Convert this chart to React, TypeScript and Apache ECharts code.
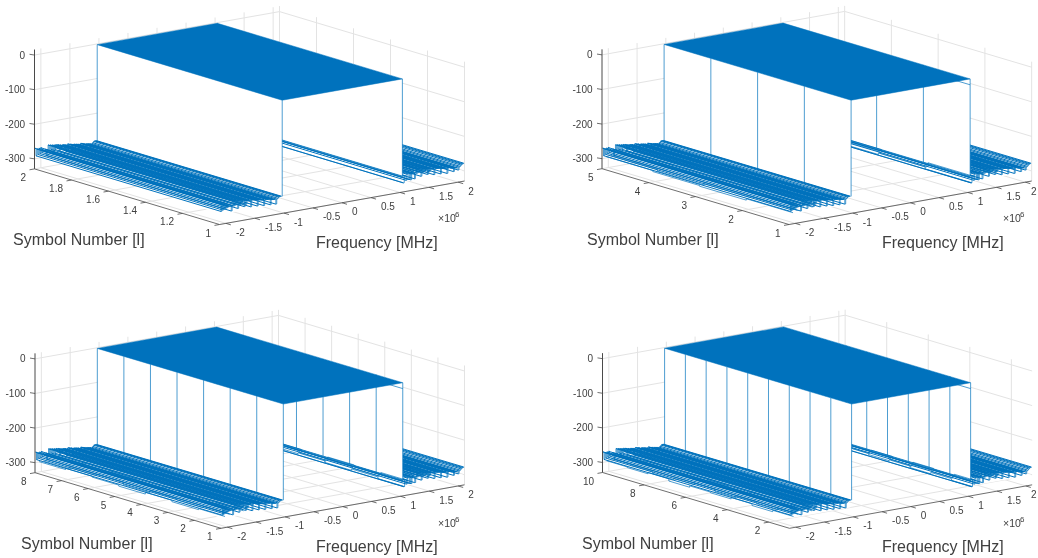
import React, { useEffect, useRef } from "react";
import * as echarts from "echarts";

// Frequency samples [in the plot's 10^6 unit] and noise-floor levels [dB]
const freqLow = [
  -2.1, -2.084, -2.068, -2.052, -2.036, -2.02, -2.004, -1.988, -1.972, -1.956,
  -1.94, -1.924, -1.908, -1.892, -1.876, -1.86, -1.844, -1.828, -1.812, -1.796,
  -1.78, -1.764, -1.748, -1.732, -1.716, -1.7, -1.684, -1.668, -1.652, -1.636,
  -1.62, -1.604, -1.588, -1.572, -1.556, -1.54, -1.524, -1.508, -1.492, -1.476,
  -1.46, -1.444, -1.428, -1.412, -1.396, -1.38, -1.364, -1.348, -1.332, -1.316,
  -1.3, -1.284, -1.268, -1.252, -1.236, -1.22, -1.204, -1.188, -1.172, -1.156,
  -1.14, -1.124, -1.108, -1.092, -1.076, -1.06, -1.044,
];
const levelLow = [
  -270, -292, -273, -289, -272, -287, -271, -285, -279, -283,
  -282, -278, -296, -281, -267, -283, -268, -281, -269, -292,
  -270, -283, -270, -280, -271, -272, -290, -273, -284, -274,
  -274, -275, -275, -294, -276, -274, -275, -276, -276, -277,
  -295, -278, -278, -279, -279, -280, -280, -297, -281, -279,
  -280, -281, -282, -282, -298, -283, -284, -284, -285, -285,
  -299, -285, -283, -280, -279, -279, -279,
];
const freqHigh = [
  1.056, 1.072, 1.088, 1.104, 1.12, 1.136, 1.152, 1.168, 1.184, 1.2,
  1.216, 1.232, 1.248, 1.264, 1.28, 1.296, 1.312, 1.328, 1.344, 1.36,
  1.376, 1.392, 1.408, 1.424, 1.44, 1.456, 1.472, 1.488, 1.504, 1.52,
  1.536, 1.552, 1.568, 1.584, 1.6, 1.616, 1.632, 1.648, 1.664, 1.68,
  1.696, 1.712, 1.728, 1.744, 1.76, 1.776, 1.792, 1.808, 1.824, 1.84,
  1.856, 1.872, 1.888, 1.904, 1.92, 1.936, 1.952, 1.968, 1.984, 2.0,
  2.016, 2.032, 2.048, 2.064, 2.08, 2.096,
];
const levelHigh = [
  -303, -284, -283, -297, -280, -279, -296, -277, -298, -282,
  -274, -280, -297, -283, -270, -282, -271, -280, -272, -293,
  -273, -283, -273, -281, -274, -275, -291, -276, -284, -277,
  -277, -278, -278, -295, -279, -277, -278, -279, -279, -280,
  -296, -281, -281, -282, -282, -283, -283, -298, -284, -282,
  -283, -284, -285, -285, -296, -286, -286, -287, -287, -294,
  -286, -284, -281, -279, -278, -277,
];
const bandEdges = [-1.03, 1.04];
const plateauLevel = -2;
const wallFloorLevels = [-280, -283];

const freqRange = [-2.11, 2.11];
const levelRange = [-329, 16];
const freqTicks = [-2, -1.5, -1, -0.5, 0, 0.5, 1, 1.5, 2];
const levelTicks = [0, -100, -200, -300];

const symbolTicks1 = [1, 1.2, 1.4, 1.6, 1.8, 2];
const symbolTicks2 = [1, 2, 3, 4, 5];
const symbolTicks3 = [1, 2, 3, 4, 5, 6, 7, 8];
const symbolTicks4 = [2, 4, 6, 8, 10];

// Samples whose level changes from symbol to symbol: [frequency, level per symbol...]
const steppedTraces2 = [
  [-2.04, -297, -301, -299, -296],
  [-1.96, -293, -296, -300, -295],
  [-1.7, -291, -288, -295, -290],
  [1.07, -303, -297, -302, -295],
  [1.09, -291, -299, -294, -300],
  [1.12, -287, -292, -289, -294],
];
const steppedTraces3 = [
  [-2.04, -297, -300, -296, -301, -298, -295, -299],
  [-1.96, -293, -297, -294, -299, -292, -296, -300],
  [-1.72, -290, -294, -288, -296, -291, -287, -293],
  [1.07, -303, -298, -302, -296, -300, -297, -301],
  [1.09, -290, -297, -293, -299, -292, -298, -295],
  [1.12, -287, -291, -288, -293, -289, -292, -290],
];
const steppedTraces4 = [
  [-2.04, -297, -301, -296, -300, -298, -302, -295, -299, -297],
  [-1.96, -293, -298, -294, -299, -292, -297, -300, -295, -293],
  [-1.72, -290, -295, -288, -296, -291, -287, -294, -289, -293],
  [1.07, -303, -298, -302, -296, -300, -297, -301, -299, -303],
  [1.09, -290, -297, -293, -299, -292, -298, -295, -300, -294],
  [1.12, -287, -291, -288, -293, -289, -292, -290, -294, -288],
];
const edgeNotchLevel = -19;

const symbolTitle = "Symbol Number [l]";
const freqTitle = "Frequency [MHz]";

const panelLayouts = [
  { ox: 219.5, oy: 224.5, fpx: 58.06, fpy: 10.3, sx: 185, sy: 55.6, ticks: symbolTicks1, traces: [], notch: false, symX: 13, symY: 239, frX: 316, frY: 242, expX: 438, expY: 218 },
  { ox: 789, oy: 224.5, fpx: 57.5, fpy: 10.3, sx: 187, sy: 55.8, ticks: symbolTicks2, traces: steppedTraces2, notch: true, symX: 587, symY: 239, frX: 882, frY: 242, expX: 1003, expY: 218 },
  { ox: 221, oy: 528.3, fpx: 57.7, fpy: 10.3, sx: 186, sy: 55.6, ticks: symbolTicks3, traces: steppedTraces3, notch: true, symX: 21, symY: 543, frX: 316, frY: 546, expX: 438, expY: 523 },
  { ox: 789.5, oy: 528.3, fpx: 57.5, fpy: 10.3, sx: 187, sy: 55.8, ticks: symbolTicks4, traces: steppedTraces4, notch: true, symX: 582, symY: 543, frX: 882, frY: 546, expX: 1003, expY: 523 },
];

const BLUE = "#0072BD";
const GRID = "#e3e3e3";
const AXIS = "#4a4a4a";
const TEXT = "#404040";
const FONT = '"Liberation Sans", Arial, sans-serif';

type P3 = [number, number, number];

function buildItems(p: any) {
  const sMin = 1;
  const sMax = p.ticks[p.ticks.length - 1];
  const [fMin, fMax] = freqRange;
  const [zMin, zMax] = levelRange;
  const proj = (f: number, s: number, z: number): [number, number] => {
    const t = (s - sMin) / (sMax - sMin);
    return [p.ox + (f - fMin) * p.fpx - t * p.sx, p.oy - (f - fMin) * p.fpy - t * p.sy - (z - zMin) * 0.346];
  };
  const items: any[] = [];
  const line = (pts: P3[], stroke: string, w: number) =>
    items.push({ kind: "line", pts: pts.map((q) => proj(q[0], q[1], q[2])), stroke, w });
  const poly = (pts: P3[], fill: string) =>
    items.push({ kind: "poly", pts: pts.map((q) => proj(q[0], q[1], q[2])), fill });
  const text = (pt: [number, number], t: string, size: number, align: string, dx = 0, dy = 0) =>
    items.push({ kind: "text", pt, t, size, align, dx, dy });

  // Back planes: grid
  freqTicks.forEach((f) => {
    line([[f, sMax, zMin], [f, sMax, zMax]], GRID, 1);
    line([[f, sMin, zMin], [f, sMax, zMin]], GRID, 1);
  });
  p.ticks.forEach((s: number) => {
    line([[fMax, s, zMin], [fMax, s, zMax]], GRID, 1);
    line([[fMin, s, zMin], [fMax, s, zMin]], GRID, 1);
  });
  levelTicks.forEach((z) => {
    line([[fMin, sMax, z], [fMax, sMax, z]], GRID, 1);
    line([[fMax, sMin, z], [fMax, sMax, z]], GRID, 1);
  });

  const [f1, f2] = bandEdges;
  const [zw1, zw2] = wallFloorLevels;
  const floorW = 1;
  const stairW = 0.7;
  const wallW = 0.7;

  const drawBand = (fs: number[], zs: number[]) => {
    const last = fs.length - 1;
    // opaque mesh face under the band
    poly([[fs[0], sMax, zs[0]], [fs[last], sMax, -270], [fs[last], sMin, -300], [fs[0], sMin, -300]], "#ffffff");
    fs.forEach((f, i) => line([[f, sMin, zs[i]], [f, sMax, zs[i]]], BLUE, floorW));
    const stair = (s: number) => {
      const pts: P3[] = [];
      fs.forEach((f, i) => {
        pts.push([f, s, zs[i]]);
        if (i < last) pts.push([fs[i + 1], s, zs[i]]);
      });
      line(pts, BLUE, stairW);
    };
    stair(sMin);
    stair(sMax);
  };
  const drawTraces = (isLow: boolean) => {
    p.traces
      .filter((tr: number[]) => (isLow ? tr[0] < 0 : tr[0] > 0))
      .forEach((tr: number[]) => {
        const pts: P3[] = [];
        const lv = tr.slice(1);
        lv.forEach((z, j) => {
          pts.push([tr[0], sMin + j, z]);
          pts.push([tr[0], sMin + j + 1, z]);
        });
        line(pts, BLUE, stairW);
      });
  };
  const integerSymbols: number[] = [];
  for (let s = Math.ceil(sMin); s <= sMax; s++) integerSymbols.push(s);

  // far side of the band
  drawBand(freqHigh, levelHigh);
  poly([[f2, sMin, plateauLevel], [f2, sMax, plateauLevel], [f2, sMax, zw2], [f2, sMin, zw2]], "#ffffff");
  line([[f2, sMin, zw2], [f2, sMax, zw2]], BLUE, stairW);
  line([[f2 + 0.01, sMin, zw2 - 2], [f2 + 0.01, sMax, zw2 - 2]], BLUE, stairW);
  line([[f2, sMin, zw2 - 4], [f2, sMax, zw2 - 4]], BLUE, stairW);
  integerSymbols.forEach((s) => line([[f2, s, plateauLevel], [f2, s, zw2]], BLUE, wallW));
  if (p.notch) line([[f2, sMin, edgeNotchLevel], [f2, sMin + 1, edgeNotchLevel], [f2, sMin + 1, plateauLevel]], BLUE, wallW);
  drawTraces(false);
  line([[f2 + 0.02, sMin, levelHigh[0]], [f2 + 0.02, sMax, levelHigh[0]]], BLUE, stairW);

  // near wall of the band
  poly([[f1, sMin, plateauLevel], [f1, sMax, plateauLevel], [f1, sMax, zw1], [f1, sMin, zw1]], "#ffffff");
  drawBand(freqLow, levelLow);
  drawTraces(true);
  integerSymbols.forEach((s) => line([[f1, s, plateauLevel], [f1, s, zw1]], BLUE, wallW));

  // plateau
  poly([[f1, sMin, plateauLevel], [f1, sMax, plateauLevel], [f2, sMax, plateauLevel], [f2, sMin, plateauLevel]], BLUE);

  // Axes
  line([[fMin, sMax, zMin], [fMin, sMax, zMax]], AXIS, 1);
  line([[fMin, sMin, zMin], [fMin, sMax, zMin]], AXIS, 0.8);
  line([[fMin, sMin, zMin], [fMax, sMin, zMin]], AXIS, 0.8);
  levelTicks.forEach((z) => {
    const a = proj(fMin, sMax, z);
    items.push({ kind: "line", pts: [a, [a[0] - 5, a[1] - 0.8]], stroke: AXIS, w: 0.8 });
    text(a, String(z), 10, "right", -9.5, 0);
  });
  freqTicks.forEach((f) => {
    const a = proj(f, sMin, zMin);
    items.push({ kind: "line", pts: [a, [a[0] + 5, a[1] + 1.5]], stroke: AXIS, w: 0.8 });
    // keep the last label inside the canvas
    const dx = a[0] + 10 + 6 > 1037 ? 1031 - a[0] : 10;
    text(a, String(f), 10, "left", dx, 9);
  });
  p.ticks.forEach((s: number) => {
    const a = proj(fMin, s, zMin);
    items.push({ kind: "line", pts: [a, [a[0] - 5, a[1] + 0.9]], stroke: AXIS, w: 0.8 });
    text(a, String(s), 10, "right", -8.5, 8.5);
  });
  text([p.symX, p.symY], symbolTitle, 16, "left");
  text([p.frX, p.frY], freqTitle, 16, "left");
  text([p.expX, p.expY], "×10", 10.5, "left");
  text([p.expX + 17, p.expY - 4], "6", 8, "left");
  return items;
}

const allPanels = panelLayouts.map(buildItems);

function makeSeries(items: any[]) {
  return {
    type: "custom",
    coordinateSystem: "cartesian2d",
    silent: true,
    clip: false,
    progressive: 0,
    data: items.map((_, i) => [0, i]),
    renderItem: (params: any, api: any) => {
      const it = items[params.dataIndex];
      if (it.kind === "text") {
        const c = api.coord(it.pt);
        return {
          type: "text",
          silent: true,
          style: {
            text: it.t,
            x: c[0] + it.dx,
            y: c[1] + it.dy,
            fill: TEXT,
            fontSize: it.size,
            fontFamily: FONT,
            align: it.align,
            verticalAlign: "middle",
          },
        };
      }
      const points = it.pts.map((q: number[]) => api.coord(q));
      if (it.kind === "poly") {
        return { type: "polygon", silent: true, shape: { points }, style: { fill: it.fill, stroke: it.fill === "#ffffff" ? "none" : it.fill, lineWidth: 0.5 } };
      }
      return { type: "polyline", silent: true, shape: { points }, style: { stroke: it.stroke, lineWidth: it.w, fill: "none" } };
    },
  };
}

export default function App() {
  const ref = useRef<HTMLDivElement>(null);
  useEffect(() => {
    document.body.style.margin = "0";
    const chart = echarts.init(ref.current!, undefined, { renderer: "svg" });
    chart.setOption({
      animation: false,
      backgroundColor: "#ffffff",
      grid: { left: 0, right: 0, top: 0, bottom: 0 },
      xAxis: { type: "value", min: 0, max: 1038, show: false },
      yAxis: { type: "value", min: 0, max: 558, inverse: true, show: false },
      series: allPanels.map(makeSeries),
    });
    return () => chart.dispose();
  }, []);
  return <div ref={ref} style={{ width: 1038, height: 558, filter: "blur(0.35px)" }} />;
}
